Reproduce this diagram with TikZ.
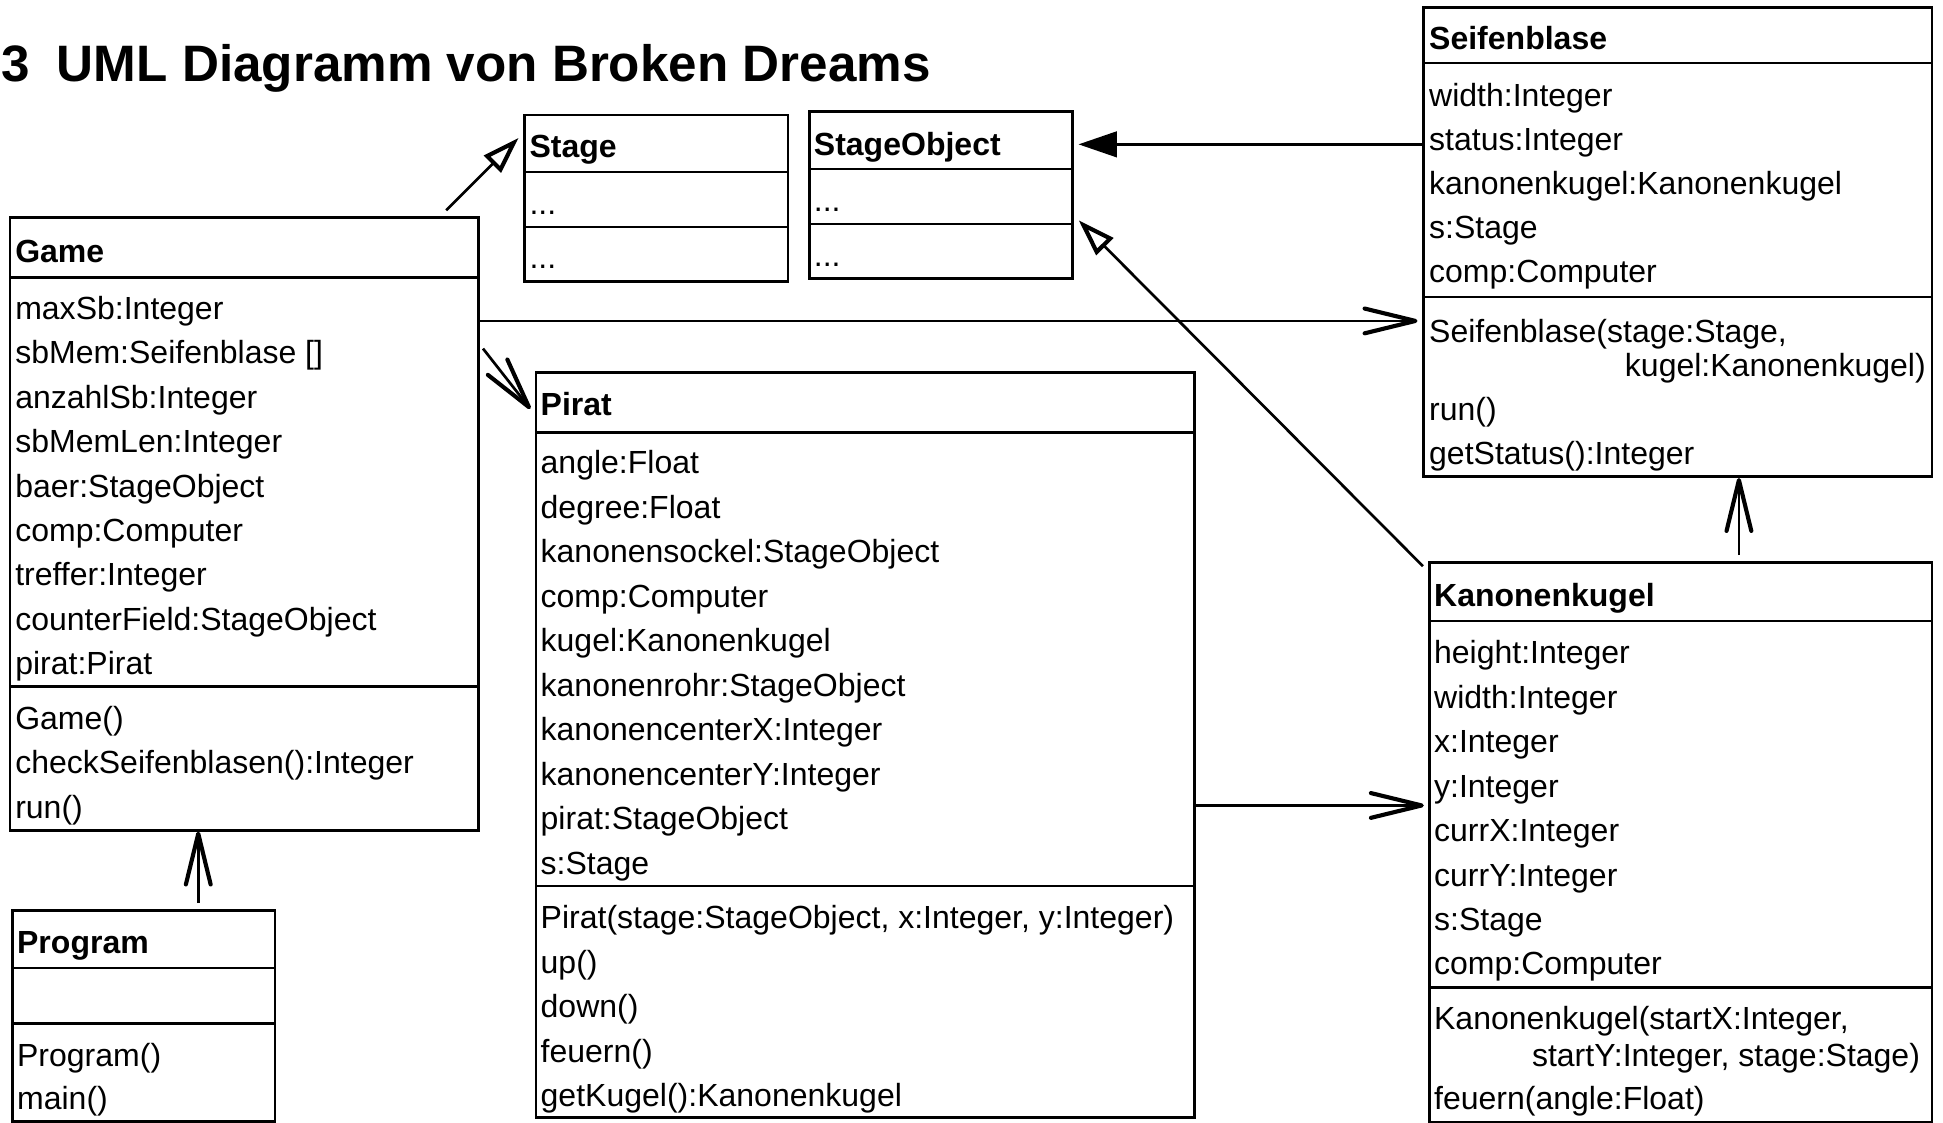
\documentclass[tikz,border=0pt]{standalone}
\usepackage{fontspec}
\setmainfont{Liberation Sans}
\usetikzlibrary{arrows.meta, calc, fit}

\tikzset{
  classbox/.style={draw, line width=1.3pt, inner sep=0pt},
  sepline/.style={line width=1.1pt},
  member/.style={anchor=base west, inner sep=0pt, font=\fontsize{15.5}{18}\selectfont},
  classname/.style={member, font=\fontsize{15.5}{18}\selectfont\bfseries},
  openarrow/.style={line width=1.3pt, -{Straight Barb[round, length=24.6pt, width=12pt, line width=2pt]}},
  hollowtri/.style={line width=1.3pt, -{Triangle[open, length=18pt, width=11.4pt, line width=2pt]}},
  solidtri/.style={line width=1.3pt, -{Triangle[length=18.6pt, width=12.4pt]}},
}

\begin{document}
\begin{tikzpicture}[x=0.6pt, y=-0.6pt]
    \useasboundingbox (0,0) rectangle (1568,906);
    %\draw[help lines, step=100] (0,0) grid (1568,906);
    \node[member, font=\fontsize{24.8}{30}\selectfont\bfseries] (title) at (1,66)
        {3\hspace{13pt}UML Diagramm von Broken Dreams};

    % Stage
    \node[classbox, fit={(423,92.8) (636,227)}] (stage) {};
    \draw[sepline] (423,139) -- (636,139);
    \draw[sepline] (423,183) -- (636,183);
    \node[classname] (stage-h) at (427,127.5) {Stage};
    \node[member] (stage-a) at (427,173) {...};
    \node[member] (stage-m) at (427,217) {...};

    % StageObject
    \node[classbox, fit={(653,90) (865.3,225)}] (stageobject) {};
    \draw[sepline] (653,136.6) -- (865.3,136.6);
    \draw[sepline] (653,180.8) -- (865.3,180.8);
    \node[classname] (stageobject-h) at (656.5,125.5) {StageObject};
    \node[member] (stageobject-a) at (656.5,171) {...};
    \node[member] (stageobject-m) at (656.5,215) {...};

    % Game
    \node[classbox, fit={(8,175.4) (386,670)}] (game) {};
    \draw[sepline] (8,224) -- (386,224);
    \draw[sepline] (8,554) -- (386,554);
    \node[classname] (game-h) at (12,211.5) {Game};
    \foreach \t [count=\i from 0] in {maxSb:Integer, {sbMem:Seifenblase []},
            anzahlSb:Integer, sbMemLen:Integer, baer:StageObject, comp:Computer,
            treffer:Integer, counterField:StageObject, pirat:Pirat}
        \node[member] (game-a\i) at (12,{257.5+35.9*\i}) {\t};
    \foreach \t [count=\i from 0] in {Game(), checkSeifenblasen():Integer, run()}
        \node[member] (game-m\i) at (12,{588.5+35.9*\i}) {\t};

    % Program
    \node[classbox, fit={(10,735) (222,905)}] (program) {};
    \draw[sepline] (10,781) -- (222,781);
    \draw[sepline] (10,826) -- (222,826);
    \node[classname] (program-h) at (13.5,769.5) {Program};
    \node[member] (program-m0) at (13.5,860.5) {Program()};
    \node[member] (program-m1) at (13.5,895.5) {main()};

    % Pirat
    \node[classbox, fit={(432.5,300.7) (964,902)}] (pirat) {};
    \draw[sepline] (432.5,349) -- (964,349);
    \draw[sepline] (432.5,715) -- (964,715);
    \node[classname] (pirat-h) at (436,335.5) {Pirat};
    \foreach \t [count=\i from 0] in {angle:Float, degree:Float,
            kanonensockel:StageObject, comp:Computer, kugel:Kanonenkugel,
            kanonenrohr:StageObject, kanonencenterX:Integer,
            kanonencenterY:Integer, pirat:StageObject, s:Stage}
        \node[member] (pirat-a\i) at (436,{382.5+35.9*\i}) {\t};
    \foreach \t [count=\i from 0] in {{Pirat(stage:StageObject, x:Integer, y:Integer)},
            up(), down(), feuern(), getKugel():Kanonenkugel}
        \node[member] (pirat-m\i) at (436,{749.5+35.9*\i}) {\t};

    % Seifenblase
    \node[classbox, fit={(1149,5.9) (1559,384.7)}] (seifenblase) {};
    \draw[sepline] (1149,50.6) -- (1559,50.6);
    \draw[sepline] (1149,239.4) -- (1559,239.4);
    \node[classname] (seifenblase-h) at (1153,39.8) {Seifenblase};
    \foreach \t [count=\i from 0] in {width:Integer, status:Integer,
            kanonenkugel:Kanonenkugel, s:Stage, comp:Computer}
        \node[member] (seifenblase-a\i) at (1153,{86+35.5*\i}) {\t};
    \node[member] (seifenblase-m0) at (1153,276) {Seifenblase(stage:Stage,};
    \node[member] (seifenblase-m0b) at (1311,304) {kugel:Kanonenkugel)};
    \node[member] (seifenblase-m1) at (1153,339.5) {run()};
    \node[member] (seifenblase-m2) at (1153,374.5) {getStatus():Integer};

    % Kanonenkugel
    \node[classbox, fit={(1153.4,454) (1559,905.5)}] (kanonenkugel) {};
    \draw[sepline] (1153.4,501) -- (1559,501);
    \draw[sepline] (1153.4,797) -- (1559,797);
    \node[classname] (kanonenkugel-h) at (1157,489.5) {Kanonenkugel};
    \foreach \t [count=\i from 0] in {height:Integer, width:Integer, x:Integer,
            y:Integer, currX:Integer, currY:Integer, s:Stage, comp:Computer}
        \node[member] (kanonenkugel-a\i) at (1157,{535.5+35.9*\i}) {\t};
    \node[member] (kanonenkugel-m0) at (1157,830.5) {Kanonenkugel(startX:Integer,};
    \node[member] (kanonenkugel-m0b) at (1236,860.5) {startY:Integer, stage:Stage)};
    \node[member] (kanonenkugel-m1) at (1157,895.5) {feuern(angle:Float)};

    % connectors
    \draw[hollowtri] ($(game.north east)+(-27,-4.6)$) -- ($(stage.north west)+(-3.4,19.6)$);
    \draw[solidtri, shorten >=2.4pt] (seifenblase.west |- 0,116.5) -- (stageobject.east |- 0,116.5);
    \draw[hollowtri] ($(kanonenkugel.north west)+(-4,4)$) -- ($(stageobject.north east)+(4.1,88.9)$);
    \draw[openarrow, shorten >=2.4pt] (game.east |- 0,259) -- (seifenblase.west |- 0,259);
    \draw[openarrow] ($(game.north east)+(2.7,107)$) -- ($(pirat.north west)+(-3.5,30.3)$);
    \draw[openarrow, shorten >=2pt] (pirat.east |- 0,650) -- (kanonenkugel.west |- 0,650);
    \draw[openarrow, shorten <=3pt] (kanonenkugel.north -| 1403.3,0) -- (seifenblase.south -| 1403.3,0);
    \draw[openarrow, shorten <=3pt] (program.north -| 160,0) -- (game.south -| 160,0);
\end{tikzpicture}
\end{document}
